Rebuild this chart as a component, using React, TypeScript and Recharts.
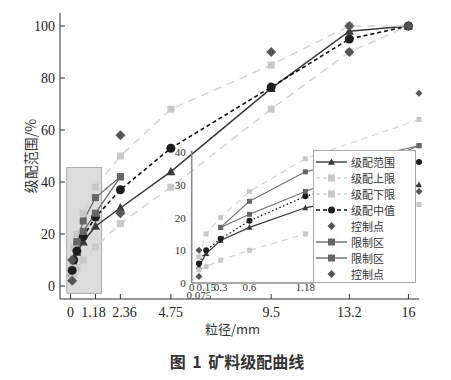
import React from 'react';
import { ComposedChart, Line, XAxis, YAxis, ReferenceArea, ReferenceLine, Legend } from 'recharts';

// sieve sizes (mm) and passing percentages
const SIEVES = [0.075, 0.15, 0.3, 0.6, 1.18, 2.36, 4.75, 9.5, 13.2, 16];
const GRADATION = [5, 9, 13, 17, 23, 30, 44, 76, 98, 100];
const UPPER = [8, 15, 20, 28, 38, 50, 68, 85, 100, 100];
const LOWER = [4, 5, 7, 10, 15, 24, 38, 68, 90, 100];
const MEDIAN = [6, 10, 13.5, 19, 26.5, 37, 53, 76.5, 95, 100];
const CTRL_A = [10, null, null, null, null, 58, null, 90, 100, 100];
const ZONE_A = [null, null, 17, 25, 34, 42, null, null, null, null];
const ZONE_B = [null, null, 17, 21, 28, 42, null, null, null, null];
const CTRL_B = [2, null, null, null, null, 28, null, null, 90, null];

const X_TICKS = [0, 1.18, 2.36, 4.75, 9.5, 13.2, 16];
const Y_TICKS = [0, 20, 40, 60, 80, 100];
const INSET_X_TICKS = [0, 0.075, 0.15, 0.3, 0.6, 1.18];
const INSET_Y_TICKS = [0, 10, 20, 30, 40];

const TABLE = SIEVES.map((size, i) => ({
  size,
  grad: GRADATION[i],
  upper: UPPER[i],
  lower: LOWER[i],
  mid: MEDIAN[i],
  ctrlA: CTRL_A[i],
  zoneA: ZONE_A[i],
  zoneB: ZONE_B[i],
  ctrlB: CTRL_B[i],
}));
const INSET_TABLE = TABLE.filter((d) => d.size <= 2.36);

const SERIF = '"Liberation Serif", "DejaVu Serif", serif';
const CJK = '"Noto Sans CJK SC", "Noto Sans", sans-serif';

type Shape = 'triangle' | 'square' | 'circle' | 'diamond';

const SERIES: {
  key: string; name: string; stroke: string; width: number; dash?: string; insetDash?: string;
  shape: Shape; fill: string; size: number; insetSize: number;
}[] = [
  { key: 'grad', name: '级配范围', stroke: '#383838', width: 1.5, shape: 'triangle', fill: '#3a3a3a', size: 9, insetSize: 6 },
  { key: 'upper', name: '级配上限', stroke: '#d3d3d3', width: 1.5, dash: '8 6', insetDash: '6 5', shape: 'square', fill: '#c8c8c8', size: 7, insetSize: 5 },
  { key: 'lower', name: '级配下限', stroke: '#d3d3d3', width: 1.5, dash: '8 6', insetDash: '6 5', shape: 'square', fill: '#c8c8c8', size: 7, insetSize: 5 },
  { key: 'mid', name: '级配中值', stroke: '#111111', width: 1.6, dash: '4 3', insetDash: '1.5 2.5', shape: 'circle', fill: '#1e1e1e', size: 9, insetSize: 6 },
  { key: 'ctrlA', name: '控制点', stroke: 'none', width: 0, shape: 'diamond', fill: '#555555', size: 10, insetSize: 7 },
  { key: 'zoneA', name: '限制区', stroke: '#6e6e6e', width: 1.3, shape: 'square', fill: '#666666', size: 7, insetSize: 5 },
  { key: 'zoneB', name: '限制区', stroke: '#6e6e6e', width: 1.3, shape: 'square', fill: '#666666', size: 7, insetSize: 5 },
  { key: 'ctrlB', name: '控制点', stroke: 'none', width: 0, shape: 'diamond', fill: '#555555', size: 10, insetSize: 7 },
];

function Marker({ shape, cx, cy, size, fill }: { shape: Shape; cx?: number | null; cy?: number | null; size: number; fill: string }) {
  if (cx == null || cy == null || isNaN(cx) || isNaN(cy)) return null;
  const h = size / 2;
  switch (shape) {
    case 'triangle':
      return <polygon points={`${cx},${cy - h * 1.1} ${cx + h},${cy + h * 0.8} ${cx - h},${cy + h * 0.8}`} fill={fill} />;
    case 'square':
      return <rect x={cx - h} y={cy - h} width={size} height={size} fill={fill} />;
    case 'diamond':
      return <polygon points={`${cx},${cy - h} ${cx + h},${cy} ${cx},${cy + h} ${cx - h},${cy}`} fill={fill} />;
    default:
      return <circle cx={cx} cy={cy} r={h} fill={fill} />;
  }
}

function renderLines(inset: boolean) {
  return SERIES.map((s) => (
    <Line
      key={s.key}
      type="linear"
      dataKey={s.key}
      name={s.name}
      stroke={s.stroke}
      strokeWidth={inset ? s.width * 0.8 : s.width}
      strokeDasharray={inset ? s.insetDash : s.dash}
      dot={(p: any) => (
        <Marker key={`${s.key}-${p.index}`} shape={s.shape} cx={p.cx} cy={p.cy} size={inset ? s.insetSize : s.size} fill={s.fill} />
      )}
      activeDot={false}
      isAnimationActive={false}
    />
  ));
}

// the figure nudges the crowded 1.18 / 2.36 labels apart
const MainXTick = ({ x, y, payload }: any) => {
  const nudge = payload.value === 1.18 ? -2 : payload.value === 2.36 ? 4 : 0;
  return (
    <text x={x + nudge} y={y} dy={11} textAnchor="middle" fontSize={14} fontFamily={SERIF} fill="#222">
      {payload.value}
    </text>
  );
};

const InsetXTick = ({ x, y, payload }: any) => (
  <text x={x} y={y} dy={payload.value === 0.075 ? 15.5 : 7.5} textAnchor="middle" fontSize={11} fontFamily={SERIF} fill="#333">
    {payload.value}
  </text>
);

const LegendBox = ({ payload }: any) => {
  const order = (k: string) => SERIES.findIndex((s) => s.key === k);
  const items = [...(payload || [])].sort((a: any, b: any) => order(a.dataKey) - order(b.dataKey));
  return (
    <div style={{ paddingTop: 3, fontFamily: CJK, fontSize: 11, color: '#333' }}>
      {items.map((entry: any, i: number) => {
        const s = SERIES.find((x) => x.key === entry.dataKey) ?? SERIES[i];
        return (
          <div key={i} style={{ display: 'flex', alignItems: 'center', height: 16 }}>
            <svg width={34} height={12} style={{ marginLeft: 1 }}>
              {s.stroke !== 'none' && (
                <line x1={1} y1={6} x2={32} y2={6} stroke={s.stroke} strokeWidth={1.4} strokeDasharray={s.dash ? '4 3' : undefined} />
              )}
              <Marker shape={s.shape} cx={16.5} cy={6} size={s.shape === 'diamond' ? 8 : 7} fill={s.fill} />
            </svg>
            <span style={{ marginLeft: 2, lineHeight: '16px' }}>{s.name}</span>
          </div>
        );
      })}
    </div>
  );
};

export default function App() {
  return (
    <div style={{ position: 'absolute', left: 0, top: 0, width: 451, height: 380, background: '#fff' }}>
      <div style={{ position: 'absolute', left: 0, top: 0 }}>
        <ComposedChart width={451} height={380} data={TABLE} margin={{ top: 13, right: 32, bottom: 41, left: 10 }}>
          <ReferenceArea x1={-0.18} x2={1.47} y1={-2.8} y2={45.6} fill="#dcdcdc" fillOpacity={1} stroke="#a8a8a8" strokeWidth={1} />
          <XAxis
            dataKey="size"
            type="number"
            domain={[-0.5, 16.5]}
            ticks={X_TICKS}
            interval={0}
            tickSize={-5}
            tickMargin={12}
            stroke="#333"
            tick={<MainXTick />}
            height={40}
            label={{ value: '粒径/mm', position: 'insideBottom', offset: 5, dx: -7, fontSize: 13, fontFamily: CJK, fill: '#333' }}
          />
          <YAxis
            type="number"
            domain={[-5, 105]}
            ticks={Y_TICKS}
            interval={0}
            tickSize={-5}
            tickMargin={10}
            stroke="#333"
            width={50}
            tick={{ fontSize: 14, fontFamily: SERIF, fill: '#222' }}
            label={{ value: '级配范围/%', angle: -90, position: 'center', dx: -4, fontSize: 14, fontFamily: CJK, fill: '#333' }}
          />
          <XAxis xAxisId="top" orientation="top" type="number" domain={[0, 1]} height={0} tick={false} tickLine={false} stroke="#4a4a4a" strokeWidth={2} />
          <YAxis yAxisId="right" orientation="right" type="number" domain={[0, 1]} width={0} tick={false} tickLine={false} stroke="#333" strokeWidth={1.5} />
          {renderLines(false)}
        </ComposedChart>
      </div>

      <div style={{ position: 'absolute', left: 150, top: 60 }}>
        <ComposedChart width={301} height={260} data={INSET_TABLE} margin={{ top: 26.8, right: 32, bottom: 12, left: 11.7 }}>
          <XAxis
            dataKey="size"
            type="number"
            domain={[0, 2.36]}
            ticks={INSET_X_TICKS}
            interval={0}
            axisLine={false}
            tickLine={false}
            tickSize={0}
            tickMargin={0}
            height={25}
            tick={<InsetXTick />}
          />
          <YAxis
            type="number"
            domain={[0, 60]}
            ticks={INSET_Y_TICKS}
            interval={0}
            axisLine={false}
            tickLine={false}
            tickSize={0}
            tickMargin={6}
            width={30}
            tick={{ fontSize: 11, fontFamily: SERIF, fill: '#333' }}
          />
          <ReferenceLine segment={[{ x: 0, y: 0 }, { x: 0, y: 40.5 }]} stroke="#8a8a8a" strokeWidth={1.6} />
          <ReferenceLine segment={[{ x: 0, y: 0 }, { x: 1.27, y: 0 }]} stroke="#555" strokeWidth={1} />
          {renderLines(true)}
          <Legend
            layout="vertical"
            align="center"
            verticalAlign="middle"
            content={<LegendBox />}
            wrapperStyle={{
              left: 163,
              top: 90,
              width: 103,
              height: 133,
              background: '#fff',
              border: '1px solid #aaa',
              boxSizing: 'border-box',
            }}
          />
        </ComposedChart>
      </div>

      <div
        style={{
          position: 'absolute',
          top: 352,
          left: 237,
          transform: 'translateX(-50%)',
          whiteSpace: 'nowrap',
          fontFamily: CJK,
          fontWeight: 700,
          fontSize: 16,
          lineHeight: '18px',
          color: '#333',
          wordSpacing: 3,
        }}
      >
        图 1 矿料级配曲线
      </div>
    </div>
  );
}
